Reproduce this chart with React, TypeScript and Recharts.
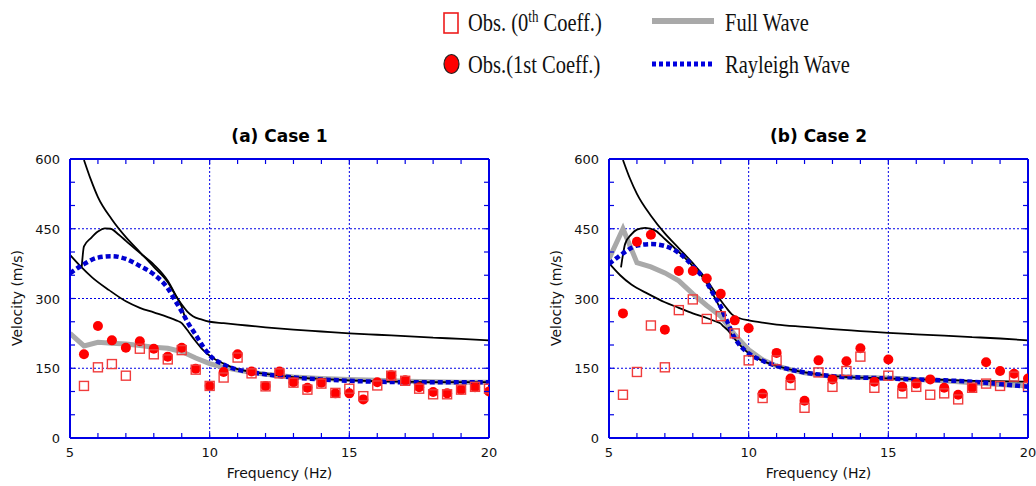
import React from "react";
import { ComposedChart, Line, Scatter, XAxis, YAxis, CartesianGrid } from "recharts";

/* ---------- data ---------- */
const obsFreq = [5.5, 6, 6.5, 7, 7.5, 8, 8.5, 9, 9.5, 10, 10.5, 11, 11.5, 12, 12.5, 13, 13.5, 14, 14.5, 15, 15.5, 16, 16.5, 17, 17.5, 18, 18.5, 19, 19.5, 20];

const case1Obs0 = [112, 152, 159, 134, 192, 180, 169, 189, 147, 112, 130, 173, 139, 111, 139, 119, 104, 117, 97, 106, 90, 113, 134, 123, 106, 94, 94, 104, 110, 106];
const case1Obs1 = [180, 241, 210, 194, 208, 192, 175, 194, 149, 112, 142, 180, 143, 112, 143, 120, 108, 119, 96, 96, 83, 120, 135, 124, 109, 99, 96, 104, 109, 100];
const case2Obs0 = [93, 142, 242, 152, 275, 298, 256, 262, 225, 167, 86, 167, 114, 65, 141, 110, 144, 175, 108, 134, 96, 110, 93, 96, 83, 108, 117, 112, 132, 110];
const case2Obs1 = [268, 422, 437, 233, 359, 359, 343, 310, 253, 236, 95, 183, 128, 80, 167, 126, 165, 193, 121, 169, 110, 117, 126, 108, 93, 108, 163, 144, 138, 128];

const curveFreq = [5, 5.5, 6, 6.5, 7, 7.5, 8, 8.5, 9, 9.5, 10, 10.5, 11, 11.5, 12, 13, 14, 15, 16, 17, 18, 19, 20];
const case1Full = [225, 198, 206, 204, 202, 199, 195, 193, 186, 172, 160, 152, 146, 141, 137, 131, 128, 126, 124, 122, 121, 120, 120];
const case2Full = [385, 450, 377, 368, 355, 338, 310, 285, 262, 222, 190, 168, 155, 147, 140, 132, 130, 129, 126, 123, 119, 115, 112];

const rayleighFreq = [5, 5.5, 6, 6.5, 7, 7.5, 8, 8.5, 8.75, 9, 9.25, 9.5, 9.75, 10, 10.5, 11, 11.5, 12, 13, 14, 15, 16, 17, 18, 19, 20];
const case1Rayleigh = [354, 374, 388, 391, 385, 370, 352, 322, 297, 272, 245, 222, 198, 178, 158, 147, 141, 137, 130, 126, 123, 121, 120, 120, 120, 120];
const case2Rayleigh = [374, 397, 414, 417, 413, 398, 370, 334, 308, 282, 248, 215, 195, 182, 166, 155, 147, 141, 133, 130, 128, 126, 124, 121, 116, 110];

// theoretical modes (black)
const modeAFreq = [5.5, 5.75, 6, 6.5, 7, 7.5, 8, 8.5, 8.8, 9, 9.2, 9.4, 9.7, 10, 10.5, 11, 12, 13, 14, 15, 16, 17, 18, 19, 20];
const case1ModeA = [598, 555, 518, 470, 432, 400, 368, 335, 305, 287, 272, 262, 255, 250, 247, 244, 238, 233, 229, 225, 222, 219, 216, 213, 210];
const case2ModeA = [598, 558, 525, 478, 440, 408, 376, 340, 313, 296, 280, 266, 257, 253, 248, 244, 239, 234, 230, 226, 223, 220, 217, 214, 210];

const case1ModeBFreq = [5.42, 5.5, 5.75, 6, 6.25, 6.45, 6.75, 7, 7.5, 8, 8.5, 8.8, 9, 9.1];
const case1ModeB = [368, 412, 430, 444, 451, 450, 437, 424, 398, 373, 338, 305, 282, 262];
const case2ModeBFreq = [5.43, 5.58, 5.8, 6, 6.3, 6.66, 7, 7.5, 7.9, 8.5, 8.87, 9.1];
const case2ModeB = [367, 418, 438, 448, 452, 446, 428, 400, 376, 333, 292, 262];

const modeCFreq = [5, 5.4, 5.8, 6.4, 7, 7.5, 8, 8.5, 8.8, 9, 9.1, 9.25, 9.5, 9.75, 10, 10.5, 11, 11.5, 12, 13, 14, 15, 16, 17, 18, 19, 20];
const case1ModeC = [394, 368, 345, 318, 294, 280, 270, 260, 253, 247, 240, 228, 208, 190, 177, 160, 148, 142, 138, 131, 127, 124, 122, 121, 120, 120, 120];
const case2ModeC = [376, 350, 330, 310, 292, 280, 268, 258, 251, 246, 240, 232, 213, 196, 182, 166, 155, 147, 141, 133, 130, 128, 126, 125, 123, 122, 121];

const xTicks = [5, 6, 7, 8, 9, 10, 11, 12, 13, 14, 15, 16, 17, 18, 19, 20];
const yTicks = [0, 50, 100, 150, 200, 250, 300, 350, 400, 450, 500, 550, 600];
const gridX = [10, 15];
const gridY = [150, 300, 450];

const zip = (xs: number[], ys: number[]) => xs.map((x, i) => ({ x, y: ys[i] }));

/* ---------- styles ---------- */
const FRAME = "#0000e6";
const TICK_FONT = "'DejaVu Sans', sans-serif";

const BottomTick = (p: any) => {
  const v = p.payload.value;
  return (
    <g>
      <line x1={p.x} x2={p.x} y1={p.y} y2={p.y - 5} stroke={FRAME} strokeWidth={1.2} />
      {v % 5 === 0 && (
        <text x={p.x} y={p.y + 19} textAnchor="middle" fontSize={13} fontFamily={TICK_FONT} fill="#111">
          {v}
        </text>
      )}
    </g>
  );
};
const TopTick = (p: any) => (
  <line x1={p.x} x2={p.x} y1={p.y} y2={p.y + 5} stroke={FRAME} strokeWidth={1.2} />
);
const LeftTick = (p: any) => {
  const v = p.payload.value;
  return (
    <g>
      <line x1={p.x} x2={p.x + 5} y1={p.y} y2={p.y} stroke={FRAME} strokeWidth={1.2} />
      {v % 150 === 0 && (
        <text x={p.x - 10} y={p.y + 5} textAnchor="end" fontSize={13} fontFamily={TICK_FONT} fill="#111">
          {v}
        </text>
      )}
    </g>
  );
};
const RightTick = (p: any) => (
  <line x1={p.x} x2={p.x - 5} y1={p.y} y2={p.y} stroke={FRAME} strokeWidth={1.2} />
);

const SquareShape = (p: any) => (
  <rect x={p.cx - 4.5} y={p.cy - 4.5} width={9} height={9} fill="none" stroke="#f03c3c" strokeWidth={1.4} />
);
const CircleShape = (p: any) => <circle cx={p.cx} cy={p.cy} r={5} fill="#ff0000" />;

interface PanelProps {
  left: number;
  width: number;
  title: string;
  obs0: number[];
  obs1: number[];
  full: number[];
  rayleigh: number[];
  modeA: number[];
  modeBFreq: number[];
  modeB: number[];
  modeC: number[];
}

// plot area: 419 x 279, top at 159
const Y_AXIS_W = 40;
const X_AXIS_H = 30;

function Panel(props: PanelProps) {
  const { left, width } = props;
  const plotLeft = 70;
  const margin = {
    top: 159 - 1,
    left: plotLeft - Y_AXIS_W,
    right: width - plotLeft - 419 - 1,
    bottom: 486 - 438 - X_AXIS_H,
  };
  const blackLine = { stroke: "#000", strokeWidth: 1.8, dot: false, activeDot: false, isAnimationActive: false, type: "monotone" as const };

  return (
    <div style={{ position: "absolute", left, top: 0, width, height: 486 }}>
      <ComposedChart width={width} height={486} margin={margin}>
        <CartesianGrid
          verticalValues={gridX}
          horizontalValues={gridY}
          stroke={FRAME}
          strokeDasharray="2 2"
          strokeWidth={1}
        />
        <XAxis dataKey="x" type="number" domain={[5, 20]} ticks={xTicks} interval={0} height={X_AXIS_H}
          tickSize={0} tickMargin={0} tickLine={false} tick={BottomTick}
          axisLine={{ stroke: FRAME, strokeWidth: 2 }} allowDataOverflow />
        <XAxis xAxisId="top" orientation="top" dataKey="x" type="number" domain={[5, 20]} ticks={xTicks} interval={0} height={1}
          tickSize={0} tickMargin={0} tickLine={false} tick={TopTick}
          axisLine={{ stroke: FRAME, strokeWidth: 2 }} allowDataOverflow />
        <YAxis dataKey="y" type="number" domain={[0, 600]} ticks={yTicks} interval={0} width={Y_AXIS_W}
          tickSize={0} tickMargin={0} tickLine={false} tick={LeftTick}
          axisLine={{ stroke: FRAME, strokeWidth: 2 }} allowDataOverflow />
        <YAxis yAxisId="right" orientation="right" dataKey="y" type="number" domain={[0, 600]} ticks={yTicks} interval={0} width={1}
          tickSize={0} tickMargin={0} tickLine={false} tick={RightTick}
          axisLine={{ stroke: FRAME, strokeWidth: 2 }} allowDataOverflow />

        <Line data={zip(curveFreq, props.full)} dataKey="y" stroke="#a9a9a9" strokeWidth={5} type="linear"
          dot={false} activeDot={false} isAnimationActive={false} />
        <Line data={zip(modeAFreq, props.modeA)} dataKey="y" {...blackLine} />
        <Line data={zip(props.modeBFreq, props.modeB)} dataKey="y" {...blackLine} />
        <Line data={zip(modeCFreq, props.modeC)} dataKey="y" {...blackLine} />
        <Line data={zip(rayleighFreq, props.rayleigh)} dataKey="y" stroke="#0000d0" strokeWidth={4.5}
          strokeDasharray="5 3" type="monotone" dot={false} activeDot={false} isAnimationActive={false} />
        <Scatter data={zip(obsFreq, props.obs1)} dataKey="y" shape={CircleShape} isAnimationActive={false} />
        <Scatter data={zip(obsFreq, props.obs0)} dataKey="y" shape={SquareShape} isAnimationActive={false} />
      </ComposedChart>

      <div style={{ position: "absolute", left: plotLeft, width: 419, top: 126, textAlign: "center",
        fontFamily: TICK_FONT, fontWeight: "bold", fontSize: 17, color: "#000", whiteSpace: "nowrap" }}>
        {props.title}
      </div>
      <div style={{ position: "absolute", left: plotLeft, width: 419, top: 465, textAlign: "center",
        fontFamily: TICK_FONT, fontSize: 14, color: "#111", whiteSpace: "nowrap" }}>
        Frequency (Hz)
      </div>
      <div style={{ position: "absolute", left: plotLeft - 53 - 70, top: 290, width: 140, textAlign: "center",
        fontFamily: TICK_FONT, fontSize: 14, color: "#111", whiteSpace: "nowrap", transform: "rotate(-90deg)" }}>
        Velocity (m/s)
      </div>
    </div>
  );
}

function Legend() {
  const serif = "'Liberation Serif', 'Times New Roman', serif";
  const sy = 1.22;
  return (
    <svg width={1036} height={100} style={{ position: "absolute", left: 0, top: 0 }}>
      <rect x={444} y={13} width={14} height={20} fill="#fff" stroke="#ee1c1c" strokeWidth={1.6} />
      <ellipse cx={451.5} cy={64} rx={7.5} ry={9.5} fill="#ff0000" stroke="#222" strokeWidth={1.2} />
      <line x1={652} x2={714} y1={21} y2={21} stroke="#a9a9a9" strokeWidth={6} />
      <line x1={652} x2={712} y1={64} y2={64} stroke="#0000e0" strokeWidth={5} strokeDasharray="4 3" />
      <g transform={`scale(1, ${sy})`} fontFamily={serif} fontSize={20.5} fill="#111">
        <text x={468} y={31.5 / sy}>
          Obs. (0<tspan fontSize={13} dy={-8}>th</tspan><tspan dy={8}> Coeff.)</tspan>
        </text>
        <text x={468} y={73 / sy}>Obs.(1st Coeff.)</text>
        <text x={725} y={31.5 / sy}>Full Wave</text>
        <text x={725} y={73 / sy}>Rayleigh Wave</text>
      </g>
    </svg>
  );
}

export default function App() {
  return (
    <div style={{ position: "absolute", left: 0, top: 0, width: 1036, height: 486, background: "#fff", overflow: "hidden" }}>
      <Legend />
      <Panel left={0} width={520} title="(a) Case 1" obs0={case1Obs0} obs1={case1Obs1} full={case1Full}
        rayleigh={case1Rayleigh} modeA={case1ModeA} modeBFreq={case1ModeBFreq} modeB={case1ModeB} modeC={case1ModeC} />
      <Panel left={539} width={497} title="(b) Case 2" obs0={case2Obs0} obs1={case2Obs1} full={case2Full}
        rayleigh={case2Rayleigh} modeA={case2ModeA} modeBFreq={case2ModeBFreq} modeB={case2ModeB} modeC={case2ModeC} />
    </div>
  );
}
